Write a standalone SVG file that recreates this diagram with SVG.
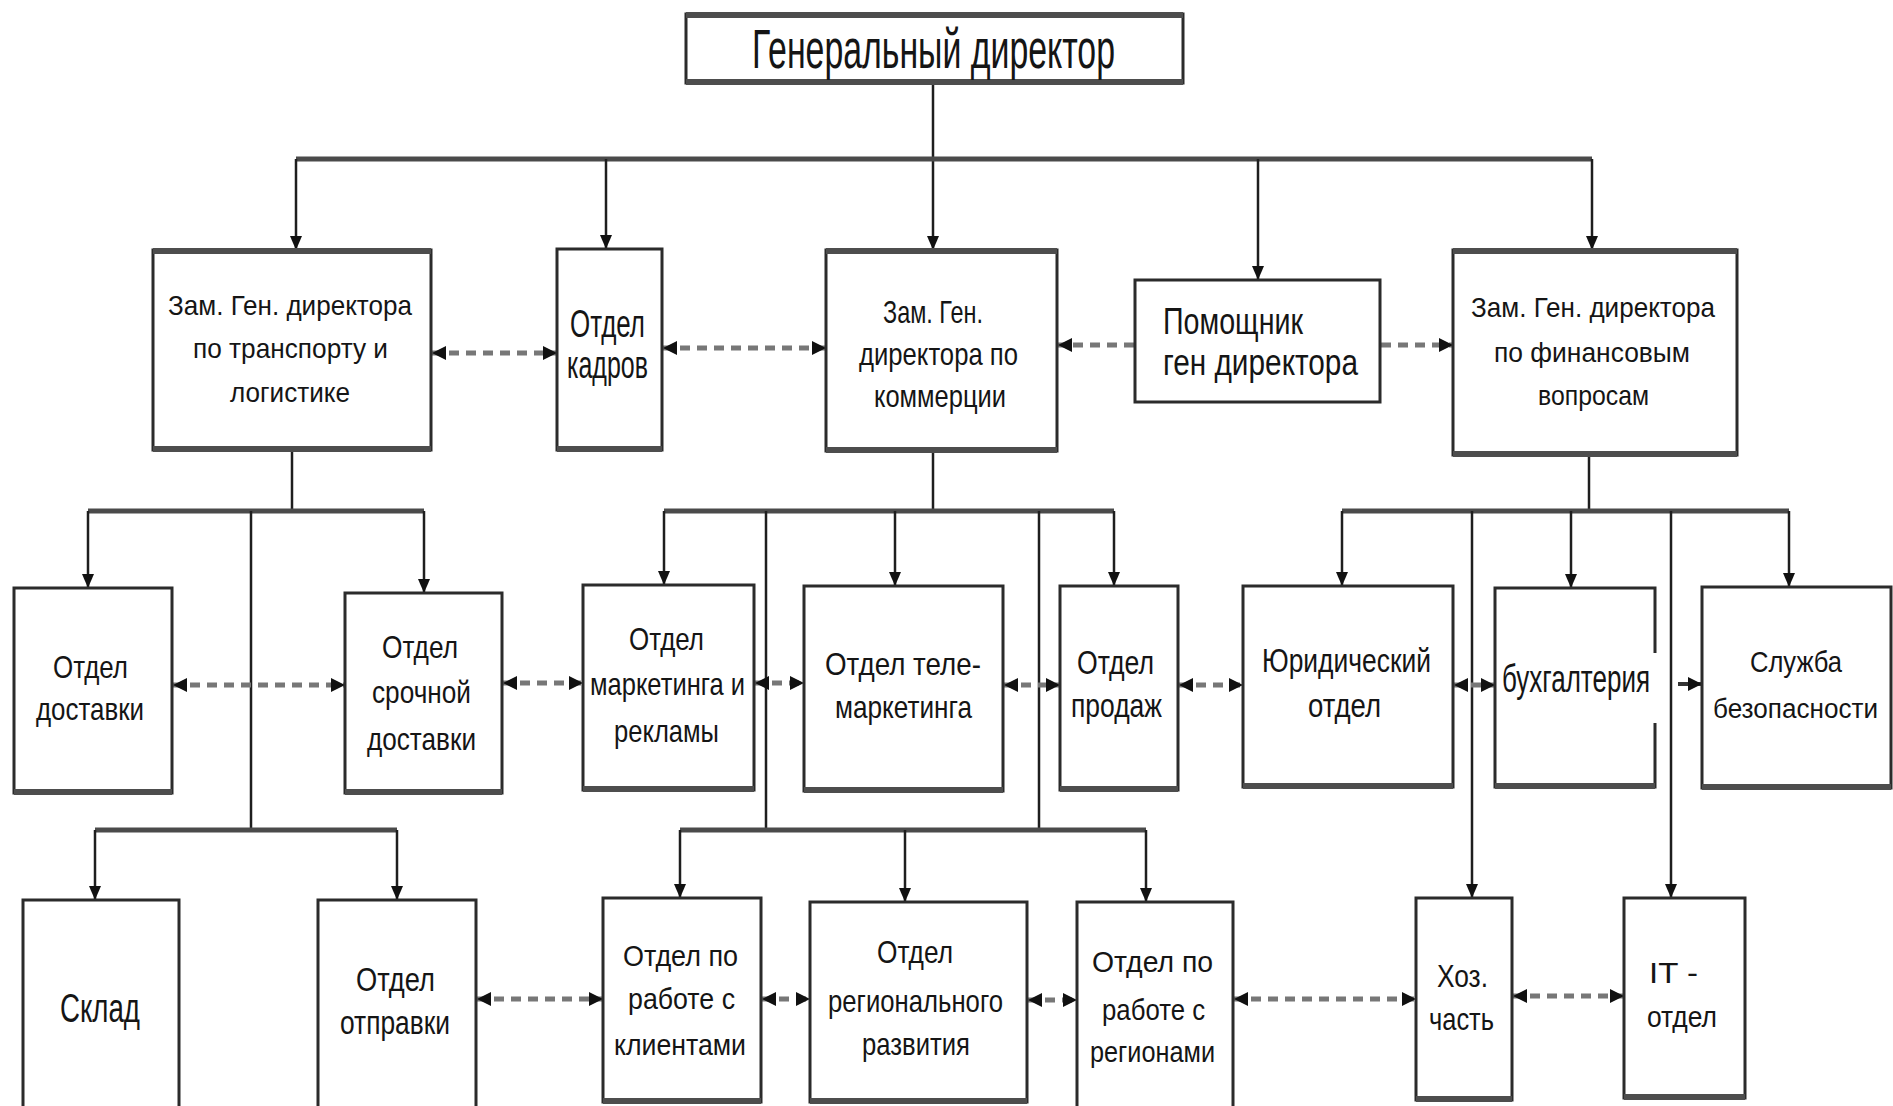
<svg xmlns="http://www.w3.org/2000/svg" width="1893" height="1106" viewBox="0 0 1893 1106">
<style>
.bg{fill:#fff}
.box{fill:#fff;stroke:#2b2b2b;stroke-width:3}
.band{stroke:#4d4d4d;stroke-width:6;fill:none}
.t{font-family:"Liberation Sans",Arial,sans-serif;fill:#151515}
.v{stroke:#1e1e1e;stroke-width:2.5;fill:none}
.bus{stroke:#4a4a4a;stroke-width:5;fill:none}
.dash{stroke:#777;stroke-width:5;stroke-dasharray:10 7;fill:none}
.sol{stroke:#333;stroke-width:4;fill:none}
</style>
<defs>
<marker id="ah" viewBox="0 0 10 10" refX="10" refY="5" markerUnits="userSpaceOnUse" markerWidth="14" markerHeight="12" orient="auto" preserveAspectRatio="none"><path d="M0,0 L10,5 L0,10 z" fill="#111"/></marker>
<marker id="dh" viewBox="0 0 10 10" refX="10" refY="5" markerUnits="userSpaceOnUse" markerWidth="14" markerHeight="14" orient="auto-start-reverse" preserveAspectRatio="none"><path d="M0,0 L10,5 L0,10 z" fill="#111"/></marker>
</defs>
<rect class="bg" x="0" y="0" width="1893" height="1106"/>

<g id="connectors">
  <line class="v" x1="933" y1="83" x2="933" y2="250" marker-end="url(#ah)"/>
  <line class="bus" x1="296" y1="159" x2="1592" y2="159"/>
  <line class="v" x1="296" y1="159" x2="296" y2="250" marker-end="url(#ah)"/>
  <line class="v" x1="606" y1="159" x2="606" y2="249" marker-end="url(#ah)"/>
  <line class="v" x1="1258" y1="159" x2="1258" y2="280" marker-end="url(#ah)"/>
  <line class="v" x1="1592" y1="159" x2="1592" y2="250" marker-end="url(#ah)"/>
  <line class="v" x1="292" y1="450" x2="292" y2="511"/>
  <line class="bus" x1="88" y1="511" x2="424" y2="511"/>
  <line class="v" x1="88" y1="511" x2="88" y2="588" marker-end="url(#ah)"/>
  <line class="v" x1="424" y1="511" x2="424" y2="593" marker-end="url(#ah)"/>
  <line class="v" x1="251" y1="511" x2="251" y2="830"/>
  <line class="bus" x1="95" y1="830" x2="397" y2="830"/>
  <line class="v" x1="95" y1="830" x2="95" y2="900" marker-end="url(#ah)"/>
  <line class="v" x1="397" y1="830" x2="397" y2="900" marker-end="url(#ah)"/>
  <line class="v" x1="933" y1="451" x2="933" y2="511"/>
  <line class="bus" x1="664" y1="511" x2="1114" y2="511"/>
  <line class="v" x1="664" y1="511" x2="664" y2="585" marker-end="url(#ah)"/>
  <line class="v" x1="895" y1="511" x2="895" y2="586" marker-end="url(#ah)"/>
  <line class="v" x1="1114" y1="511" x2="1114" y2="586" marker-end="url(#ah)"/>
  <line class="v" x1="766" y1="511" x2="766" y2="830"/>
  <line class="v" x1="1039" y1="511" x2="1039" y2="830"/>
  <line class="bus" x1="680" y1="830" x2="1146" y2="830"/>
  <line class="v" x1="680" y1="830" x2="680" y2="898" marker-end="url(#ah)"/>
  <line class="v" x1="905" y1="830" x2="905" y2="902" marker-end="url(#ah)"/>
  <line class="v" x1="1146" y1="830" x2="1146" y2="902" marker-end="url(#ah)"/>
  <line class="v" x1="1589" y1="455" x2="1589" y2="511"/>
  <line class="bus" x1="1342" y1="511" x2="1789" y2="511"/>
  <line class="v" x1="1342" y1="511" x2="1342" y2="586" marker-end="url(#ah)"/>
  <line class="v" x1="1571" y1="511" x2="1571" y2="588" marker-end="url(#ah)"/>
  <line class="v" x1="1789" y1="511" x2="1789" y2="587" marker-end="url(#ah)"/>
  <line class="v" x1="1472" y1="511" x2="1472" y2="898" marker-end="url(#ah)"/>
  <line class="v" x1="1671" y1="511" x2="1671" y2="898" marker-end="url(#ah)"/>
  <line class="dash" x1="432" y1="353" x2="557" y2="353" marker-start="url(#dh)" marker-end="url(#dh)"/>
  <line class="dash" x1="663" y1="348" x2="826" y2="348" marker-start="url(#dh)" marker-end="url(#dh)"/>
  <line class="dash" x1="1134" y1="345" x2="1058" y2="345" marker-end="url(#dh)"/>
  <line class="dash" x1="1381" y1="345" x2="1453" y2="345" marker-end="url(#dh)"/>
  <line class="dash" x1="173" y1="685" x2="345" y2="685" marker-start="url(#dh)" marker-end="url(#dh)"/>
  <line class="dash" x1="503" y1="683" x2="583" y2="683" marker-start="url(#dh)" marker-end="url(#dh)"/>
  <line class="dash" x1="755" y1="683" x2="804" y2="683" marker-start="url(#dh)" marker-end="url(#dh)"/>
  <line class="dash" x1="1004" y1="685" x2="1060" y2="685" marker-start="url(#dh)" marker-end="url(#dh)"/>
  <line class="dash" x1="1179" y1="685" x2="1243" y2="685" marker-start="url(#dh)" marker-end="url(#dh)"/>
  <line class="dash" x1="1454" y1="685" x2="1495" y2="685" marker-start="url(#dh)" marker-end="url(#dh)"/>
  <line class="sol" x1="1678" y1="684" x2="1702" y2="684" marker-end="url(#dh)"/>
  <line class="dash" x1="477" y1="999" x2="603" y2="999" marker-start="url(#dh)" marker-end="url(#dh)"/>
  <line class="dash" x1="762" y1="999" x2="810" y2="999" marker-start="url(#dh)" marker-end="url(#dh)"/>
  <line class="dash" x1="1028" y1="1000" x2="1077" y2="1000" marker-start="url(#dh)" marker-end="url(#dh)"/>
  <line class="dash" x1="1234" y1="999" x2="1416" y2="999" marker-start="url(#dh)" marker-end="url(#dh)"/>
  <line class="dash" x1="1513" y1="996" x2="1624" y2="996" marker-start="url(#dh)" marker-end="url(#dh)"/>
</g>

<g id="node-gen">
  <rect class="box" x="686" y="14" width="497" height="69"/>
  <line class="band" x1="686" y1="15" x2="1183" y2="15"/><line class="band" x1="686" y1="82" x2="1183" y2="82"/>
  <text class="t" x="752" y="68" font-size="56" textLength="363" lengthAdjust="spacingAndGlyphs">Генеральный директор</text>
</g>

<g id="node-transport">
  <rect class="box" x="153" y="250" width="278" height="200"/>
  <line class="band" x1="153" y1="251" x2="431" y2="251"/><line class="band" x1="153" y1="449" x2="431" y2="449"/>
  <text class="t" x="168" y="315" font-size="28" textLength="244" lengthAdjust="spacingAndGlyphs">Зам. Ген. директора</text>
  <text class="t" x="193" y="358" font-size="28" textLength="195" lengthAdjust="spacingAndGlyphs">по транспорту и</text>
  <text class="t" x="230" y="402" font-size="28" textLength="120" lengthAdjust="spacingAndGlyphs">логистике</text>
</g>

<g id="node-hr">
  <rect class="box" x="557" y="249" width="105" height="201"/>
  <line class="band" x1="557" y1="449" x2="662" y2="449"/>
  <text class="t" x="570" y="337" font-size="38" textLength="75" lengthAdjust="spacingAndGlyphs">Отдел</text>
  <text class="t" x="567" y="378" font-size="38" textLength="81" lengthAdjust="spacingAndGlyphs">кадров</text>
</g>

<g id="node-commerce">
  <rect class="box" x="826" y="250" width="231" height="201"/>
  <line class="band" x1="826" y1="251" x2="1057" y2="251"/><line class="band" x1="826" y1="450" x2="1057" y2="450"/>
  <text class="t" x="883" y="323" font-size="32" textLength="100" lengthAdjust="spacingAndGlyphs">Зам. Ген.</text>
  <text class="t" x="859" y="365" font-size="32" textLength="159" lengthAdjust="spacingAndGlyphs">директора по</text>
  <text class="t" x="874" y="407" font-size="32" textLength="132" lengthAdjust="spacingAndGlyphs">коммерции</text>
</g>

<g id="node-assistant">
  <rect class="box" x="1135" y="280" width="245" height="122"/>
  <text class="t" x="1163" y="334" font-size="36" textLength="140" lengthAdjust="spacingAndGlyphs">Помощник</text>
  <text class="t" x="1163" y="375" font-size="36" textLength="195" lengthAdjust="spacingAndGlyphs">ген директора</text>
</g>

<g id="node-finance">
  <rect class="box" x="1453" y="250" width="284" height="205"/>
  <line class="band" x1="1453" y1="251" x2="1737" y2="251"/><line class="band" x1="1453" y1="454" x2="1737" y2="454"/>
  <text class="t" x="1471" y="317" font-size="28" textLength="244" lengthAdjust="spacingAndGlyphs">Зам. Ген. директора</text>
  <text class="t" x="1494" y="362" font-size="28" textLength="196" lengthAdjust="spacingAndGlyphs">по финансовым</text>
  <text class="t" x="1538" y="405" font-size="28" textLength="111" lengthAdjust="spacingAndGlyphs">вопросам</text>
</g>

<g id="node-delivery">
  <rect class="box" x="14" y="588" width="158" height="205"/>
  <line class="band" x1="14" y1="792" x2="172" y2="792"/>
  <text class="t" x="53" y="678" font-size="32" textLength="75" lengthAdjust="spacingAndGlyphs">Отдел</text>
  <text class="t" x="36" y="720" font-size="32" textLength="108" lengthAdjust="spacingAndGlyphs">доставки</text>
</g>

<g id="node-express">
  <rect class="box" x="345" y="593" width="157" height="200"/>
  <line class="band" x1="345" y1="792" x2="502" y2="792"/>
  <text class="t" x="382" y="658" font-size="32" textLength="76" lengthAdjust="spacingAndGlyphs">Отдел</text>
  <text class="t" x="372" y="703" font-size="32" textLength="99" lengthAdjust="spacingAndGlyphs">срочной</text>
  <text class="t" x="367" y="750" font-size="32" textLength="109" lengthAdjust="spacingAndGlyphs">доставки</text>
</g>

<g id="node-marketing">
  <rect class="box" x="583" y="585" width="171" height="205"/>
  <line class="band" x1="583" y1="789" x2="754" y2="789"/>
  <text class="t" x="629" y="650" font-size="32" textLength="75" lengthAdjust="spacingAndGlyphs">Отдел</text>
  <text class="t" x="590" y="695" font-size="32" textLength="155" lengthAdjust="spacingAndGlyphs">маркетинга и</text>
  <text class="t" x="614" y="742" font-size="32" textLength="105" lengthAdjust="spacingAndGlyphs">рекламы</text>
</g>

<g id="node-telemarketing">
  <rect class="box" x="804" y="586" width="199" height="205"/>
  <line class="band" x1="804" y1="790" x2="1003" y2="790"/>
  <text class="t" x="825" y="675" font-size="32" textLength="156" lengthAdjust="spacingAndGlyphs">Отдел  теле-</text>
  <text class="t" x="835" y="718" font-size="32" textLength="137" lengthAdjust="spacingAndGlyphs">маркетинга</text>
</g>

<g id="node-sales">
  <rect class="box" x="1060" y="586" width="118" height="204"/>
  <line class="band" x1="1060" y1="789" x2="1178" y2="789"/>
  <text class="t" x="1077" y="674" font-size="34" textLength="77" lengthAdjust="spacingAndGlyphs">Отдел</text>
  <text class="t" x="1071" y="717" font-size="34" textLength="91" lengthAdjust="spacingAndGlyphs">продаж</text>
</g>

<g id="node-legal">
  <rect class="box" x="1243" y="586" width="210" height="201"/>
  <line class="band" x1="1243" y1="786" x2="1453" y2="786"/>
  <text class="t" x="1262" y="672" font-size="34" textLength="169" lengthAdjust="spacingAndGlyphs">Юридический</text>
  <text class="t" x="1308" y="717" font-size="34" textLength="73" lengthAdjust="spacingAndGlyphs">отдел</text>
</g>

<g id="node-accounting">
  <path class="box" d="M1655,653 V588 H1495 V787 H1655 V723"/>
  <line class="band" x1="1495" y1="786" x2="1655" y2="786"/>
  <text class="t" x="1502" y="692" font-size="38" textLength="148" lengthAdjust="spacingAndGlyphs">бухгалтерия</text>
</g>

<g id="node-security">
  <rect class="box" x="1702" y="587" width="189" height="201"/>
  <line class="band" x1="1702" y1="787" x2="1891" y2="787"/>
  <text class="t" x="1750" y="672" font-size="29" textLength="92" lengthAdjust="spacingAndGlyphs">Служба</text>
  <text class="t" x="1713" y="718" font-size="27" textLength="165" lengthAdjust="spacingAndGlyphs">безопасности</text>
</g>

<g id="node-warehouse">
  <rect class="box" x="23" y="900" width="156" height="215"/>
  <text class="t" x="60" y="1022" font-size="40" textLength="80" lengthAdjust="spacingAndGlyphs">Склад</text>
</g>

<g id="node-dispatch">
  <rect class="box" x="318" y="900" width="158" height="215"/>
  <text class="t" x="356" y="991" font-size="34" textLength="79" lengthAdjust="spacingAndGlyphs">Отдел</text>
  <text class="t" x="340" y="1034" font-size="34" textLength="110" lengthAdjust="spacingAndGlyphs">отправки</text>
</g>

<g id="node-clients">
  <rect class="box" x="603" y="898" width="158" height="204"/>
  <line class="band" x1="603" y1="1101" x2="761" y2="1101"/>
  <text class="t" x="623" y="966" font-size="30" textLength="115" lengthAdjust="spacingAndGlyphs">Отдел по</text>
  <text class="t" x="628" y="1009" font-size="30" textLength="107" lengthAdjust="spacingAndGlyphs">работе с</text>
  <text class="t" x="614" y="1055" font-size="30" textLength="132" lengthAdjust="spacingAndGlyphs">клиентами</text>
</g>

<g id="node-regional-dev">
  <rect class="box" x="810" y="902" width="217" height="200"/>
  <line class="band" x1="810" y1="1101" x2="1027" y2="1101"/>
  <text class="t" x="877" y="963" font-size="32" textLength="76" lengthAdjust="spacingAndGlyphs">Отдел</text>
  <text class="t" x="828" y="1012" font-size="32" textLength="175" lengthAdjust="spacingAndGlyphs">регионального</text>
  <text class="t" x="862" y="1055" font-size="32" textLength="108" lengthAdjust="spacingAndGlyphs">развития</text>
</g>

<g id="node-regions">
  <rect class="box" x="1077" y="902" width="156" height="215"/>
  <text class="t" x="1092" y="972" font-size="30" textLength="121" lengthAdjust="spacingAndGlyphs">Отдел  по</text>
  <text class="t" x="1102" y="1020" font-size="30" textLength="103" lengthAdjust="spacingAndGlyphs">работе с</text>
  <text class="t" x="1090" y="1062" font-size="30" textLength="125" lengthAdjust="spacingAndGlyphs">регионами</text>
</g>

<g id="node-household">
  <rect class="box" x="1416" y="898" width="96" height="202"/>
  <line class="band" x1="1416" y1="1099" x2="1512" y2="1099"/>
  <text class="t" x="1437" y="987" font-size="32" textLength="51" lengthAdjust="spacingAndGlyphs">Хоз.</text>
  <text class="t" x="1429" y="1030" font-size="32" textLength="65" lengthAdjust="spacingAndGlyphs">часть</text>
</g>

<g id="node-it">
  <rect class="box" x="1624" y="898" width="121" height="200"/>
  <line class="band" x1="1624" y1="1097" x2="1745" y2="1097"/>
  <text class="t" x="1649" y="983" font-size="30" textLength="49" lengthAdjust="spacingAndGlyphs">IT -</text>
  <text class="t" x="1647" y="1027" font-size="30" textLength="70" lengthAdjust="spacingAndGlyphs">отдел</text>
</g>
</svg>
